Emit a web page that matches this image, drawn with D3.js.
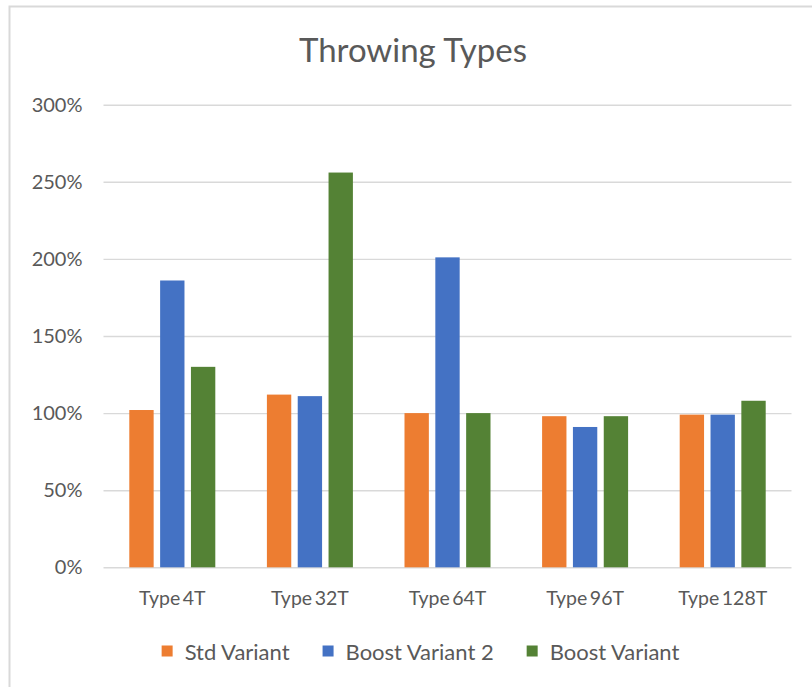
<!DOCTYPE html>
<html>
<head>
<meta charset="utf-8">
<script src="https://cdn.jsdelivr.net/npm/d3@7"></script>
<style>
  html, body { margin: 0; padding: 0; background: #ffffff; }
  svg { display: block; }
  text { font-family: Lato, "Noto Sans", sans-serif; fill: #595959; }
</style>
</head>
<body>
<svg id="chart" width="812" height="687"></svg>
<script>
// Categories and series values (ratios, 1 = 100%)
const categories = ["Type 4T", "Type 32T", "Type 64T", "Type 96T", "Type 128T"];
const seriesNames = ["Std Variant", "Boost Variant 2", "Boost Variant"];
const stdVariant = [1.02, 1.12, 1.00, 0.98, 0.99];
const boostVariant2 = [1.86, 1.11, 2.01, 0.91, 0.99];
const boostVariant = [1.30, 2.56, 1.00, 0.98, 1.08];
const yTicks = [0, 0.5, 1, 1.5, 2, 2.5, 3];
const colors = ["#ED7D31", "#4472C4", "#548235"];
const titleText = "Throwing Types";

const seriesValues = [stdVariant, boostVariant2, boostVariant];

const svg = d3.select("#chart");
const W = 812, H = 687;

// chart area frame (runs off the right and bottom edges)
svg.append("rect")
  .attr("x", 9.5).attr("y", 6.5)
  .attr("width", W + 20).attr("height", H + 20)
  .attr("fill", "#ffffff")
  .attr("stroke", "#d9d9d9").attr("stroke-width", 2);

const plot = { left: 103.5, right: 791.5, top: 104.7, bottom: 567.3 };

const y = d3.scaleLinear().domain([0, 3]).range([plot.bottom, plot.top]);
const x0 = d3.scaleBand().domain(categories).range([plot.left, plot.right]).padding(0);
const groupW = 86;
const x1 = d3.scaleBand().domain(seriesNames)
  .range([(x0.bandwidth() - groupW) / 2, (x0.bandwidth() + groupW) / 2])
  .paddingInner(0.21).paddingOuter(0);

// title
svg.append("text")
  .attr("x", 413).attr("y", 62)
  .attr("text-anchor", "middle")
  .style("font-size", "33px")
  .text(titleText);

// gridlines
const grid = svg.append("g")
  .attr("transform", `translate(${plot.left},0)`)
  .call(d3.axisLeft(y).tickValues(yTicks).tickSize(-(plot.right - plot.left)).tickFormat(""));
grid.select(".domain").remove();
grid.selectAll("line").attr("stroke", "#d9d9d9").attr("stroke-width", 1.4);

// y labels
const yAxis = svg.append("g")
  .attr("transform", `translate(${plot.left},0)`)
  .call(d3.axisLeft(y).tickValues(yTicks).tickSize(0).tickPadding(21).tickFormat(d3.format(".0%")));
yAxis.select(".domain").remove();
yAxis.selectAll("text")
  .attr("fill", "#595959")
  .style("font-family", "Lato, 'Noto Sans', sans-serif")
  .style("font-size", "20px");

// bars
const groups = svg.append("g").selectAll("g")
  .data(categories)
  .join("g")
  .attr("transform", d => `translate(${x0(d)},0)`);

groups.selectAll("rect")
  .data((c, i) => seriesNames.map((s, k) => ({ s, k, v: seriesValues[k][i] })))
  .join("rect")
  .attr("x", d => x1(d.s))
  .attr("width", x1.bandwidth())
  .attr("y", d => y(d.v))
  .attr("height", d => y(0) - y(d.v))
  .attr("fill", d => colors[d.k]);

// category labels
const xAxis = svg.append("g")
  .attr("transform", `translate(0,${plot.bottom})`)
  .call(d3.axisBottom(x0).tickSize(0).tickPadding(0));
xAxis.select(".domain").remove();
xAxis.selectAll("text")
  .attr("y", 37.5).attr("dy", 0)
  .attr("fill", "#595959")
  .style("font-family", "Lato, 'Noto Sans', sans-serif")
  .style("font-size", "19.5px")
  .style("word-spacing", "-2.5px");

// legend
const legend = svg.append("g");
const legendY = 651;
const sq = 11, sqGap = 12, itemGap = 33;
let lx = 0;
const items = legend.selectAll("g").data(seriesNames).join("g");
items.each(function (d, i) {
  const g = d3.select(this);
  g.append("rect")
    .attr("x", 0).attr("y", legendY - sq / 2)
    .attr("width", sq).attr("height", sq)
    .attr("fill", colors[i]);
  const t = g.append("text")
    .attr("x", sq + sqGap).attr("y", legendY)
    .attr("dominant-baseline", "central")
    .style("font-size", "22px")
    .text(d);
  const w = t.node().getComputedTextLength();
  g.attr("transform", `translate(${lx},0)`);
  lx += sq + sqGap + w + itemGap;
});
const legendWidth = lx - itemGap;
legend.attr("transform", `translate(${420.5 - legendWidth / 2},0)`);
</script>
</body>
</html>
